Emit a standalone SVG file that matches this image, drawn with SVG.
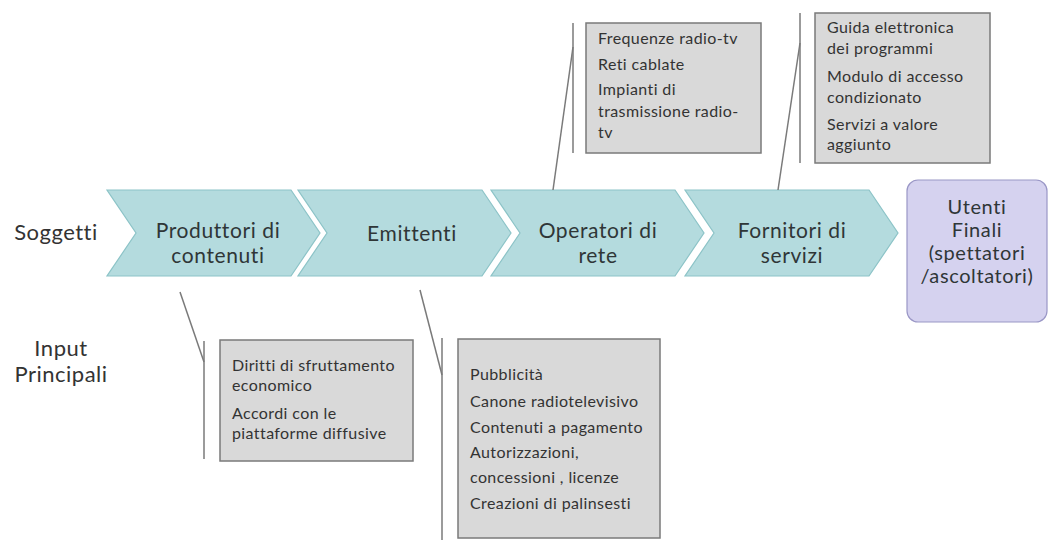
<svg xmlns="http://www.w3.org/2000/svg" width="1054" height="540" viewBox="0 0 1054 540">
  <style>
    .chev { fill: #b4dbde; stroke: #8cc3c7; stroke-width: 1.2; }
    .user { fill: #d5d2ef; stroke: #9a97c6; stroke-width: 1.2; }
    .note { fill: #d9d9d9; stroke: #7a7a7a; stroke-width: 1.5; }
    .lead { fill: none; stroke: #7a7a7a; stroke-width: 1.5; }
    .big { font-family: Lato, "Liberation Sans", sans-serif; font-size: 21px; letter-spacing: 0.6px; fill: #2f3637; text-anchor: middle; }
    .end { font-family: Lato, "Liberation Sans", sans-serif; font-size: 20px; letter-spacing: 0.6px; fill: #2f3637; text-anchor: middle; }
    .side { font-family: Lato, "Liberation Sans", sans-serif; font-size: 22px; letter-spacing: 0.5px; fill: #333333; text-anchor: middle; }
    .small { font-family: Lato, "Liberation Sans", sans-serif; font-size: 16px; letter-spacing: 0.4px; fill: #333333; }
  </style>

  <!-- row labels -->
  <g id="label-soggetti">
    <text class="side" x="56" y="240">Soggetti</text>
  </g>
  <g id="label-input">
    <text class="side" x="61" y="356">Input</text>
    <text class="side" x="61" y="382">Principali</text>
  </g>

  <!-- value chain chevrons -->
  <g id="produttori">
    <path class="chev" d="M107,190 H291 L320,233 L291,276 H107 L136,233 Z"/>
    <text class="big" x="218" y="238">Produttori di</text>
    <text class="big" x="218" y="263">contenuti</text>
  </g>
  <g id="emittenti">
    <path class="chev" d="M298,190 H482 L511,233 L482,276 H298 L327,233 Z"/>
    <text class="big" x="412" y="241">Emittenti</text>
  </g>
  <g id="operatori">
    <path class="chev" d="M491,190 H675 L704,233 L675,276 H491 L520,233 Z"/>
    <text class="big" x="598" y="238">Operatori di</text>
    <text class="big" x="598" y="263">rete</text>
  </g>
  <g id="fornitori">
    <path class="chev" d="M685,190 H869 L898,233 L869,276 H685 L714,233 Z"/>
    <text class="big" x="792" y="238">Fornitori di</text>
    <text class="big" x="792" y="263">servizi</text>
  </g>
  <g id="utenti">
    <rect class="user" x="907" y="180" width="140" height="142" rx="11"/>
    <text class="end" x="977" y="214">Utenti</text>
    <text class="end" x="977" y="237">Finali</text>
    <text class="end" x="977" y="260">(spettatori</text>
    <text class="end" x="977" y="283">/ascoltatori)</text>
  </g>

  <!-- callout boxes -->
  <g id="note-operatori">
    <rect class="note" x="586" y="23" width="175" height="130"/>
    <text class="small" x="598" y="44">Frequenze radio-tv</text>
    <text class="small" x="598" y="70">Reti cablate</text>
    <text class="small" x="598" y="95">Impianti di</text>
    <text class="small" x="598" y="117">trasmissione radio-</text>
    <text class="small" x="598" y="138">tv</text>
  </g>
  <g id="note-fornitori">
    <rect class="note" x="815" y="13" width="175" height="150"/>
    <text class="small" x="827" y="33">Guida elettronica</text>
    <text class="small" x="827" y="54">dei programmi</text>
    <text class="small" x="827" y="82">Modulo di accesso</text>
    <text class="small" x="827" y="103">condizionato</text>
    <text class="small" x="827" y="130">Servizi a valore</text>
    <text class="small" x="827" y="150">aggiunto</text>
  </g>
  <g id="note-produttori">
    <rect class="note" x="220" y="340" width="193" height="121"/>
    <text class="small" x="232" y="371">Diritti di sfruttamento</text>
    <text class="small" x="232" y="391">economico</text>
    <text class="small" x="232" y="419">Accordi con le</text>
    <text class="small" x="232" y="439">piattaforme diffusive</text>
  </g>
  <g id="note-emittenti">
    <rect class="note" x="458" y="339" width="202" height="199"/>
    <text class="small" x="470" y="380">Pubblicità</text>
    <text class="small" x="470" y="407">Canone radiotelevisivo</text>
    <text class="small" x="470" y="433">Contenuti a pagamento</text>
    <text class="small" x="470" y="458">Autorizzazioni,</text>
    <text class="small" x="470" y="483">concessioni , licenze</text>
    <text class="small" x="470" y="509">Creazioni di palinsesti</text>
  </g>

  <!-- callout leader lines with accent bars -->
  <g id="connectors">
    <path class="lead" d="M553,190 L573,47"/>
    <path class="lead" d="M573,23 V153"/>
    <path class="lead" d="M778,190 L800,43"/>
    <path class="lead" d="M800,13 V163"/>
    <path class="lead" d="M180,292 L204,362"/>
    <path class="lead" d="M204,341 V459"/>
    <path class="lead" d="M420,290 L442,375"/>
    <path class="lead" d="M442,338 V540"/>
  </g>
</svg>
